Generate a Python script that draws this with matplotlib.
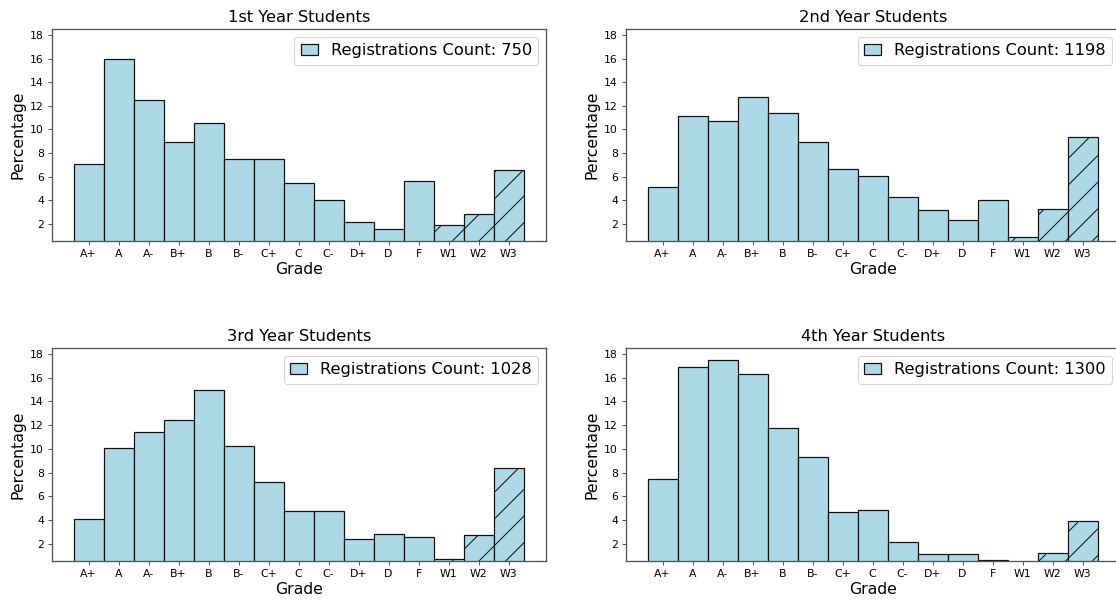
import matplotlib
matplotlib.use("Agg")
import matplotlib.pyplot as plt
import numpy as np

grades = ["A+", "A", "A-", "B+", "B", "B-", "C+", "C", "C-", "D+", "D", "F", "W1", "W2", "W3"]
withdrawn = ["W1", "W2", "W3"]

titles = ["1st Year Students", "2nd Year Students", "3rd Year Students", "4th Year Students"]
reg_counts = [750, 1198, 1028, 1300]

# percentage of registrations per grade
year1 = [7.07, 16.0, 12.53, 8.93, 10.53, 7.47, 7.47, 5.47, 4.0, 2.13, 1.6, 5.6, 1.87, 2.8, 6.53]
year2 = [5.09, 11.10, 10.68, 12.77, 11.35, 8.93, 6.68, 6.09, 4.26, 3.17, 2.34, 4.01, 0.92, 3.26, 9.35]
year3 = [4.05, 10.1, 11.42, 12.45, 14.96, 10.2, 7.17, 4.78, 4.78, 2.43, 2.82, 2.6, 0.76, 2.7, 8.35]
year4 = [7.48, 16.92, 17.48, 16.33, 11.72, 9.33, 4.64, 4.87, 2.15, 1.14, 1.14, 0.6, 0.0, 1.25, 3.9]

plt.rcParams["hatch.linewidth"] = 0.45

W, H, DPI = 1116, 602, 160
fig = plt.figure(figsize=(W / DPI, H / DPI), dpi=DPI)

# axes boxes in pixels: left, top, right, bottom
boxes = [(52, 29, 546, 241), (626, 29, 1120, 241),
         (52, 348, 546, 561), (626, 348, 1120, 561)]

x = np.arange(len(grades))
for data, title, n, (l, t, r, b) in zip([year1, year2, year3, year4], titles, reg_counts, boxes):
    ax = fig.add_axes([l / W, 1 - b / H, (r - l) / W, (b - t) / H])
    bars = ax.bar(x, data, width=1.0, color="lightblue", edgecolor="#111111",
                  linewidth=0.55, label=f"Registrations Count: {n}")
    for g, bar in zip(grades, bars):
        if g in withdrawn:
            bar.set_hatch("//")
    ax.set_xticks(x)
    ax.set_xticklabels(grades)
    ax.set_yticks(np.arange(2, 19, 2))
    ax.set_xlim(-1.22, 15.25)
    ax.set_ylim(0.55, 18.5)
    ax.set_title(title, fontsize=7.3, pad=3)
    ax.set_xlabel("Grade", fontsize=7.1, labelpad=1.5)
    ax.set_ylabel("Percentage", fontsize=7.1, labelpad=2)
    ax.tick_params(labelsize=4.9, length=1.8, width=0.4, pad=1.8, color="#444444")
    for s in ax.spines.values():
        s.set_linewidth(0.6)
        s.set_color("#555555")
    leg = ax.legend(loc="upper right", fontsize=7.3, borderaxespad=0.47,
                    handlelength=1.05, handleheight=0.6, handletextpad=0.8,
                    borderpad=0.4)
    leg.get_frame().set_linewidth(0.5)

fig.savefig("out.png", dpi=DPI)
